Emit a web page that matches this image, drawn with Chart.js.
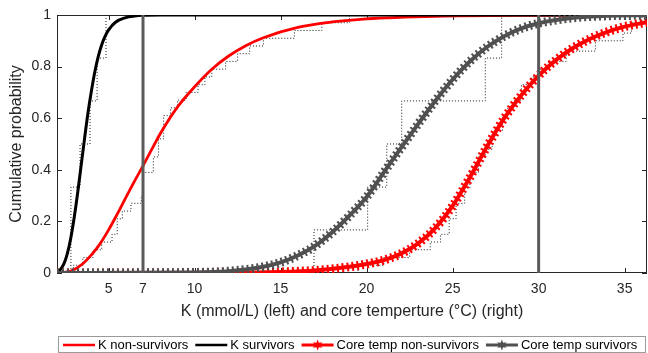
<!DOCTYPE html>
<html>
<head>
<meta charset="utf-8">
<script src="https://cdn.jsdelivr.net/npm/chart.js@4.4.0/dist/chart.umd.min.js"></script>
<style>
html, body { margin: 0; padding: 0; background: #fff; }
#wrap { width: 648px; height: 353px; }
</style>
</head>
<body>
<div id="wrap"><canvas id="cdfChart" width="648" height="353"></canvas></div>
<script>
const xTicks = [5, 7, 10, 15, 20, 25, 30, 35];
const yTicks = [0, 0.2, 0.4, 0.6, 0.8, 1];
const yTickLabels = ["0", "0.2", "0.4", "0.6", "0.8", "1"];
const cutoffs = [7, 30];
const xTitle = "K (mmol/L) (left) and core temperture (\u00B0C) (right)";
const yTitle = "Cumulative probability";
const legendLabels = ["K non-survivors", "K survivors", "Core temp non-survivors", "Core temp survivors"];
const legendColors = ["#ff0000", "#000000", "#ff0000", "#505050"];
const legendStars = [false, false, true, true];

// fitted curves
const kSurvX = [2.0, 2.2, 2.4, 2.6, 2.8, 3.0, 3.2, 3.4, 3.6, 3.8, 4.0, 4.2, 4.4, 4.6, 4.8, 5.0, 5.4, 6.0, 6.5, 7.0, 8.0, 12, 20, 36.3];
const kSurvY = [0.005, 0.014, 0.035, 0.075, 0.135, 0.215, 0.31, 0.415, 0.52, 0.62, 0.705, 0.78, 0.84, 0.885, 0.918, 0.942, 0.972, 0.99, 0.996, 0.999, 1, 1, 1, 1];

const kNonSurvX = [2.0, 2.6, 3.0, 3.5, 4.0, 4.5, 5.0, 5.5, 6.0, 6.5, 7.0, 7.5, 8.0, 9.0, 10, 11, 12, 13, 14, 16, 18, 20, 24, 30, 36.3];
const kNonSurvY = [0, 0.004, 0.014, 0.036, 0.07, 0.113, 0.167, 0.228, 0.292, 0.355, 0.415, 0.478, 0.54, 0.643, 0.722, 0.79, 0.842, 0.882, 0.912, 0.952, 0.973, 0.985, 0.995, 0.999, 1];

const tempNonSurvX = [2, 12, 15, 17, 19, 20, 21, 22, 23, 24, 25, 26, 27, 28, 29, 30, 31, 32, 33, 34, 35, 36.3];
const tempNonSurvY = [0, 0.001, 0.004, 0.01, 0.024, 0.035, 0.05, 0.075, 0.115, 0.175, 0.26, 0.37, 0.49, 0.6, 0.69, 0.765, 0.825, 0.872, 0.908, 0.935, 0.955, 0.972];

const tempSurvX = [2, 10, 12, 14, 15, 16, 17, 18, 19, 20, 21, 22, 23, 24, 25, 26, 27, 28, 29, 30, 32, 34, 36.3];
const tempSurvY = [0, 0.002, 0.007, 0.024, 0.041, 0.068, 0.105, 0.158, 0.222, 0.295, 0.39, 0.485, 0.578, 0.668, 0.75, 0.82, 0.876, 0.918, 0.948, 0.968, 0.989, 0.997, 0.999];

// empirical cdfs (dotted steps)
const kSurvStepX = [2.0, 2.81, 3.34, 3.92, 4.33, 4.85, 36.3];
const kSurvStepY = [0, 0.333, 0.5, 0.667, 0.833, 1, 1];

const kNonSurvStepX = [2.0, 2.95, 3.5, 4.1, 4.6, 5.2, 5.5, 5.8, 6.3, 6.9, 7.0, 7.6, 7.9, 8.2, 8.6, 9.0, 9.5, 10.2, 10.6, 11.0, 11.8, 12.5, 13.2, 14.0, 15.8, 17.4, 19.0, 36.3];
const kNonSurvStepY = [0, 0.03, 0.06, 0.09, 0.12, 0.15, 0.21, 0.24, 0.27, 0.3, 0.39, 0.45, 0.52, 0.61, 0.64, 0.67, 0.7, 0.73, 0.76, 0.79, 0.82, 0.85, 0.88, 0.91, 0.94, 0.97, 1, 1];

const tempSurvStepX = [2.0, 16.94, 20.06, 21.17, 22.04, 26.9, 27.85, 36.3];
const tempSurvStepY = [0, 0.167, 0.333, 0.5, 0.667, 0.833, 1, 1];

const tempNonSurvStepX = [2.0, 19.5, 21.0, 22.5, 23.7, 24.3, 24.8, 25.2, 25.7, 26.0, 26.5, 26.9, 27.3, 27.9, 28.2, 28.6, 29.0, 29.6, 30.1, 30.6, 31.6, 33.3, 34.9, 35.4, 36.0, 36.3];
const tempNonSurvStepY = [0, 0.03, 0.06, 0.09, 0.12, 0.15, 0.21, 0.27, 0.33, 0.39, 0.45, 0.48, 0.55, 0.61, 0.64, 0.67, 0.73, 0.76, 0.79, 0.82, 0.86, 0.9, 0.93, 0.97, 1, 1];

const textColor = "#262626";
const fontFamily = "'Liberation Sans', Arial, sans-serif";

function pts(xs, ys) {
    return xs.map((x, i) => ({ x: x, y: ys[i] }));
}

function curve(data, color, width) {
    return {
        data: data,
        borderColor: color,
        borderWidth: width,
        pointRadius: 0,
        cubicInterpolationMode: "monotone",
        fill: false
    };
}

function starChain(data, color) {
    return {
        data: data,
        borderColor: color,
        borderWidth: 9,
        borderDash: [2, 3],
        borderCapStyle: "butt",
        pointRadius: 0,
        cubicInterpolationMode: "monotone",
        fill: false
    };
}

function stepLine(data) {
    return {
        data: data,
        borderColor: "#1a1a1a",
        borderWidth: 1,
        borderDash: [1, 2],
        pointRadius: 0,
        stepped: true,
        fill: false
    };
}

const cutLines = cutoffs.map(c => ({
    data: [{ x: c, y: 0 }, { x: c, y: 1 }],
    borderColor: "#5a5a5a",
    borderWidth: 3,
    pointRadius: 0,
    fill: false
}));

// first dataset is drawn on top
const datasets = [
    ...cutLines,
    starChain(pts(tempSurvX, tempSurvY), "#505050"),
    curve(pts(tempSurvX, tempSurvY), "#505050", 4),
    starChain(pts(tempNonSurvX, tempNonSurvY), "#ff0000"),
    curve(pts(tempNonSurvX, tempNonSurvY), "#ff0000", 4),
    curve(pts(kSurvX, kSurvY), "#000000", 3),
    curve(pts(kNonSurvX, kNonSurvY), "#ff0000", 2.8),
    stepLine(pts(kSurvStepX, kSurvStepY)),
    stepLine(pts(kNonSurvStepX, kNonSurvStepY)),
    stepLine(pts(tempSurvStepX, tempSurvStepY)),
    stepLine(pts(tempNonSurvStepX, tempNonSurvStepY))
];

const framePlugin = {
    id: "frame",
    beforeDatasetsDraw(chart) {
        const { ctx, chartArea: a, scales } = chart;
        ctx.save();
        ctx.strokeStyle = textColor;
        ctx.lineWidth = 1;
        ctx.strokeRect(a.left + 0.5, a.top + 0.5, a.right - a.left - 1, a.bottom - a.top - 1);
        ctx.beginPath();
        xTicks.forEach(v => {
            const px = Math.round(scales.x.getPixelForValue(v)) + 0.5;
            ctx.moveTo(px, a.bottom); ctx.lineTo(px, a.bottom - 5);
            ctx.moveTo(px, a.top); ctx.lineTo(px, a.top + 5);
        });
        yTicks.forEach(v => {
            const py = Math.round(scales.y.getPixelForValue(v)) + 0.5;
            ctx.moveTo(a.left, py); ctx.lineTo(a.left + 5, py);
            ctx.moveTo(a.right, py); ctx.lineTo(a.right - 5, py);
        });
        ctx.stroke();
        ctx.restore();
    }
};

function drawStar(ctx, cx, cy, r, color) {
    ctx.beginPath();
    for (let i = 0; i < 12; i++) {
        const ang = -Math.PI / 2 + i * Math.PI / 6;
        const rr = i % 2 === 0 ? r : r * 0.45;
        ctx.lineTo(cx + rr * Math.cos(ang), cy + rr * Math.sin(ang));
    }
    ctx.closePath();
    ctx.fillStyle = color;
    ctx.fill();
}

const legendPlugin = {
    id: "boxLegend",
    afterDraw(chart) {
        const ctx = chart.ctx;
        const boxLeft = 58, boxRight = 645, boxTop = 336, boxBottom = 352;
        const cy = 345;
        ctx.save();
        ctx.strokeStyle = "#9a9a9a";
        ctx.lineWidth = 1;
        ctx.strokeRect(boxLeft + 0.5, boxTop + 0.5, boxRight - boxLeft, boxBottom - boxTop);
        ctx.font = "13px " + fontFamily;
        ctx.textBaseline = "middle";
        let x = boxLeft + 5;
        legendLabels.forEach((label, i) => {
            ctx.strokeStyle = legendColors[i];
            ctx.lineWidth = legendStars[i] ? 3 : 2.5;
            ctx.beginPath();
            ctx.moveTo(x, cy);
            ctx.lineTo(x + 32, cy);
            ctx.stroke();
            if (legendStars[i]) drawStar(ctx, x + 16, cy, 5.5, legendColors[i]);
            x += 35;
            ctx.fillStyle = "#000";
            ctx.fillText(label, x, cy);
            x += ctx.measureText(label).width + 7;
        });
        ctx.restore();
    }
};

new Chart(document.getElementById("cdfChart"), {
    type: "line",
    data: { datasets: datasets },
    plugins: [framePlugin, legendPlugin],
    options: {
        responsive: false,
        animation: false,
        layout: { padding: { left: 0, right: 1, top: 15, bottom: 0 } },
        plugins: { legend: { display: false }, tooltip: { enabled: false } },
        scales: {
            x: {
                type: "linear",
                min: 2,
                max: 36.3,
                grid: { display: false, drawTicks: false },
                border: { display: false },
                ticks: {
                    color: textColor,
                    font: { family: fontFamily, size: 14 },
                    padding: 8,
                    maxRotation: 0,
                    autoSkip: false,
                    callback: v => String(v)
                },
                title: {
                    display: true,
                    text: xTitle,
                    color: textColor,
                    font: { family: fontFamily, size: 16 },
                    padding: { top: 4, bottom: 32 }
                },
                afterBuildTicks: s => { s.ticks = xTicks.map(v => ({ value: v })); },
                afterFit: s => { s.height = 80; }
            },
            y: {
                min: 0,
                max: 1,
                grid: { display: false, drawTicks: false },
                border: { display: false },
                ticks: {
                    color: textColor,
                    font: { family: fontFamily, size: 14 },
                    padding: 6,
                    callback: (v) => yTickLabels[yTicks.indexOf(v)]
                },
                title: {
                    display: true,
                    text: yTitle,
                    color: textColor,
                    font: { family: fontFamily, size: 16 },
                    padding: { top: 7, bottom: 0 }
                },
                afterBuildTicks: s => { s.ticks = yTicks.map(v => ({ value: v })); },
                afterFit: s => { s.width = 57; }
            }
        }
    }
});
</script>
</body>
</html>
